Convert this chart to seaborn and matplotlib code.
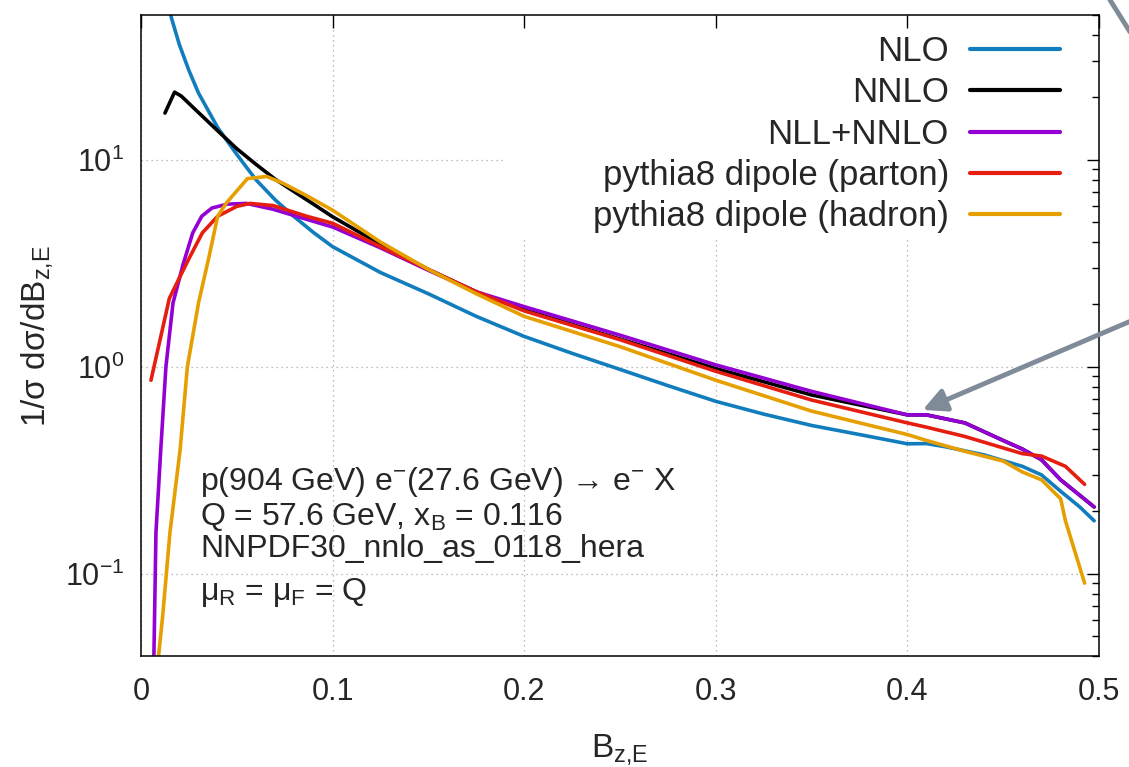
import pandas as pd
import seaborn as sns
import matplotlib.pyplot as plt
from matplotlib.patches import Polygon
from matplotlib.lines import Line2D
from matplotlib.ticker import LogLocator, NullFormatter

# curves (x = B_z,E, y = 1/sigma dsigma/dB_z,E)
labels = ['NLO', 'NNLO', 'NLL+NNLO',
          'pythia8 dipole (parton)', 'pythia8 dipole (hadron)']
colors = ['#127dbd', '#000000', '#9400d3', '#e51e10', '#e69f00']

nlo_x = [0.014, 0.016, 0.02, 0.025, 0.03, 0.04, 0.05, 0.06, 0.07, 0.08, 0.09,
         0.10, 0.125, 0.15, 0.175, 0.20, 0.225, 0.25, 0.275, 0.30, 0.325,
         0.35, 0.375, 0.40, 0.41, 0.42, 0.44, 0.46, 0.47, 0.48, 0.49, 0.4975]
nlo_y = [57, 48, 36, 27, 21, 14.3, 10.6, 8.0, 6.4, 5.3, 4.45,
         3.8, 2.85, 2.25, 1.75, 1.4, 1.16, 0.97, 0.81, 0.68, 0.59,
         0.52, 0.47, 0.424, 0.425, 0.41, 0.375, 0.33, 0.30, 0.25, 0.21, 0.18]

nnlo_x = [0.0125, 0.0175, 0.021, 0.03, 0.04, 0.05, 0.06, 0.07, 0.08, 0.09,
          0.10, 0.125, 0.15, 0.175, 0.20, 0.25, 0.30, 0.35, 0.40, 0.41,
          0.43, 0.45, 0.46, 0.47, 0.48, 0.4975]
nnlo_y = [16.8, 21.2, 20.3, 16.9, 13.8, 11.3, 9.5, 8.05, 7.0, 6.1,
          5.3, 3.9, 2.95, 2.3, 1.88, 1.36, 0.98, 0.73, 0.585, 0.585,
          0.535, 0.44, 0.40, 0.355, 0.284, 0.21]

nll_x = [0.0065, 0.0078, 0.0103, 0.013, 0.0167, 0.022, 0.027, 0.0317, 0.037,
         0.045, 0.055, 0.069, 0.0865, 0.10, 0.125, 0.15, 0.175, 0.20, 0.25,
         0.30, 0.35, 0.40, 0.41, 0.43, 0.45, 0.46, 0.47, 0.48, 0.4975]
nll_y = [0.03, 0.158, 0.396, 1.0, 2.03, 3.13, 4.43, 5.33, 5.84,
         6.1, 6.15, 5.76, 5.15, 4.73, 3.75, 2.92, 2.3, 1.95, 1.42,
         1.02, 0.76, 0.585, 0.585, 0.535, 0.44, 0.40, 0.355, 0.284, 0.21]

parton_x = [0.0052, 0.0148, 0.0246, 0.032, 0.040, 0.050, 0.057, 0.069, 0.0865,
            0.10, 0.125, 0.15, 0.175, 0.20, 0.25, 0.30, 0.35, 0.40, 0.41,
            0.43, 0.45, 0.46, 0.47, 0.4825, 0.4925]
parton_y = [0.86, 2.14, 3.27, 4.43, 5.33, 5.95, 6.15, 6.0, 5.33,
            4.93, 3.8, 2.95, 2.3, 1.86, 1.35, 0.95, 0.69, 0.535, 0.51,
            0.46, 0.405, 0.38, 0.37, 0.33, 0.27]

hadron_x = [0.0085, 0.0113, 0.0151, 0.0204, 0.0242, 0.030, 0.0355, 0.040,
            0.0447, 0.0555, 0.0656, 0.074, 0.0865, 0.10, 0.125, 0.15, 0.175,
            0.20, 0.25, 0.30, 0.35, 0.40, 0.41, 0.43, 0.45, 0.46, 0.47, 0.48,
            0.4825, 0.4925]
hadron_y = [0.035, 0.0623, 0.158, 0.396, 1.0, 2.03, 3.4, 5.33,
            6.2, 8.1, 8.3, 7.7, 6.7, 5.7, 4.0, 2.95, 2.25,
            1.75, 1.25, 0.86, 0.61, 0.47, 0.44, 0.39, 0.35, 0.31, 0.284, 0.23,
            0.18, 0.09]

xticks = [0, 0.1, 0.2, 0.3, 0.4, 0.5]
xtick_labels = ['0', '0.1', '0.2', '0.3', '0.4', '0.5']

info_lines = ['p(904 GeV) e$^{-}$(27.6 GeV) → e$^{-}$ X',
              'Q = 57.6 GeV, x$_{B}$ = 0.116',
              'NNPDF30_nnlo_as_0118_hera',
              'μ$_{R}$ = μ$_{F}$ = Q']

# long table for seaborn
curves = [(nlo_x, nlo_y), (nnlo_x, nnlo_y), (nll_x, nll_y),
          (parton_x, parton_y), (hadron_x, hadron_y)]
df = pd.concat([pd.DataFrame({'B': cx, 'val': cy, 'curve': lab})
                for (cx, cy), lab in zip(curves, labels)], ignore_index=True)

sns.set_style('white')
plt.rcParams['font.family'] = ['Liberation Sans', 'DejaVu Sans']
plt.rcParams['mathtext.default'] = 'regular'
plt.rcParams['axes.unicode_minus'] = False

fig = plt.figure(figsize=(11.29, 7.67), dpi=100)
ax = fig.add_axes([0.1249, 0.1447, 0.8485, 0.8357])

sns.lineplot(data=df, x='B', y='val', hue='curve', hue_order=labels,
             palette=colors, estimator=None, sort=False, linewidth=2.6,
             ax=ax)

ax.set_yscale('log')
ax.set_xlim(0, 0.5)
ax.set_ylim(0.04, 50)
ax.set_xticks(xticks, labels=xtick_labels)
ax.yaxis.set_major_locator(LogLocator(base=10))
ax.yaxis.set_minor_locator(LogLocator(base=10, subs=range(2, 10)))
ax.yaxis.set_minor_formatter(NullFormatter())

ax.tick_params(which='both', direction='in', top=True, right=True,
               color='black', width=1.0)
ax.tick_params(which='major', length=9, labelsize=22)
ax.tick_params(axis='x', which='major', pad=15)
ax.tick_params(axis='y', which='major', pad=12)
ax.tick_params(which='minor', length=4.8)
for s in ax.spines.values():
    s.set_color('black')
    s.set_linewidth(1.1)

ax.set_xlabel('B$_{z{,}E}$', fontsize=24, labelpad=18)
ax.set_ylabel('1/σ dσ/dB$_{z{,}E}$', fontsize=24, labelpad=7)

# dotted grid, kept out of the key area
ax.grid(True, which='major', linestyle=(0, (1, 3)), color='#a8a8a8',
        linewidth=0.9)
keep = Polygon([(0, 0), (1, 0), (1, 0.6537), (0.38, 0.6537), (0.38, 1), (0, 1)],
               closed=True, transform=ax.transAxes, facecolor='none',
               edgecolor='none')
ax.add_patch(keep)
for gl in ax.xaxis.get_gridlines() + ax.yaxis.get_gridlines():
    gl.set_clip_path(keep)
ax.xaxis.set_clip_path(keep)
ax.yaxis.set_clip_path(keep)

h, l = ax.get_legend_handles_labels()
leg = ax.legend(h, l, loc='upper right', bbox_to_anchor=(0.9593, 0.9686),
                frameon=False, markerfirst=False, fontsize=25,
                handlelength=2.6, handletextpad=0.6, labelspacing=0.24,
                borderpad=0, borderaxespad=0)
for hd in leg.legend_handles:
    hd.set_linewidth(3.0)

for txt, yf in zip(info_lines, [0.259, 0.2044, 0.1544, 0.0874]):
    ax.text(0.0616, yf, txt, transform=ax.transAxes, fontsize=23,
            ha='left', va='baseline')

# callout arrows
ax.annotate('', xy=(0.408, 0.618), xycoords='data',
            xytext=(1.02, 0.593), textcoords='figure fraction',
            annotation_clip=False,
            arrowprops=dict(arrowstyle='-|>,head_length=0.7,head_width=0.35',
                            color='#7f8b98', lw=3.5, mutation_scale=20,
                            shrinkA=0, shrinkB=0))
fig.add_artist(Line2D([0.9788, 1.0053], [1.0104, 0.948],
                      transform=fig.transFigure, color='#7f8b98', lw=3.5))

fig.savefig('out.png', dpi=100)
